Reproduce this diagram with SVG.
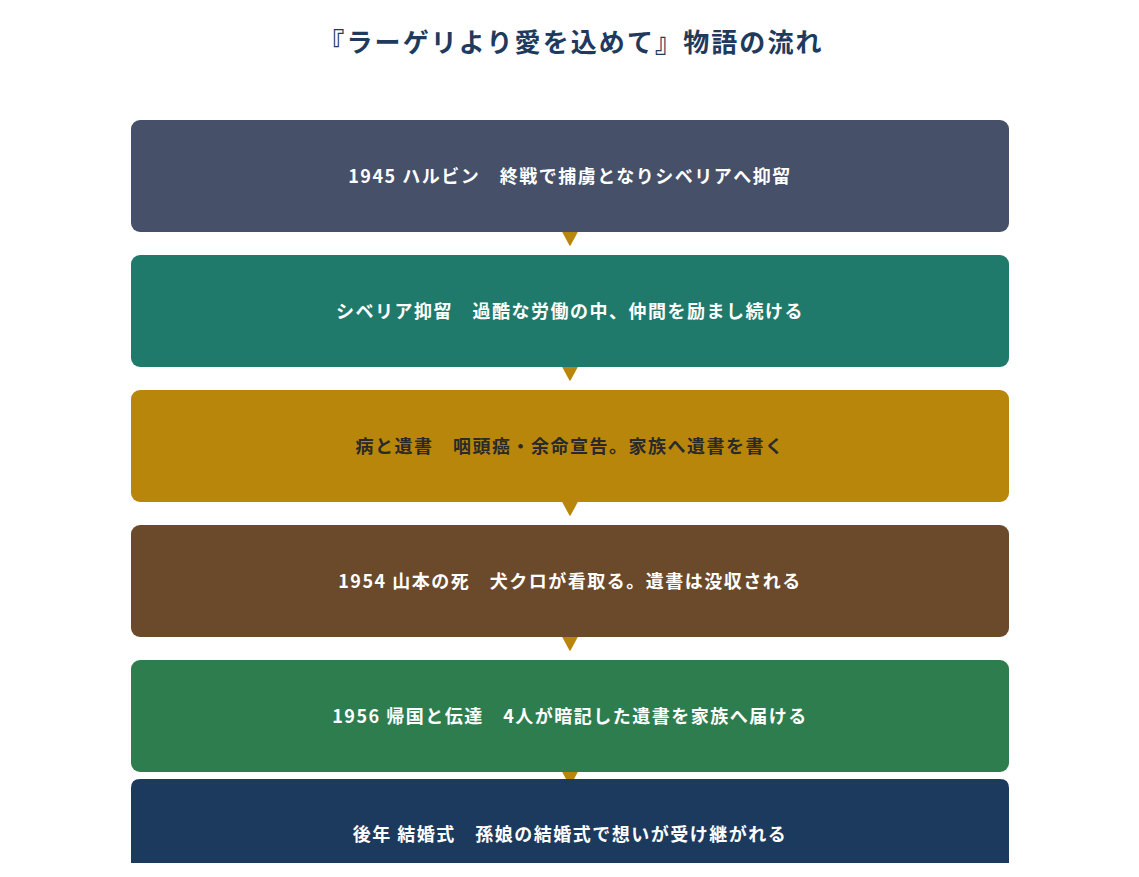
<svg xmlns="http://www.w3.org/2000/svg" width="1139" height="877" viewBox="0 0 1139 877">
<defs>
<style>
.title{font-family:"Noto Sans CJK JP","Noto Sans",sans-serif;font-weight:700;font-size:26px;fill:#1f3a5c;text-anchor:middle;letter-spacing:2.1px}
.lbl{font-family:"Noto Sans CJK JP","Noto Sans",sans-serif;font-weight:700;font-size:18px;fill:#ffffff;text-anchor:middle;dominant-baseline:central;letter-spacing:1.5px}
.dark{fill:#2a2a2a}
.arrow{fill:#b8860b;stroke:#b8860b;stroke-width:1.5;stroke-linejoin:round}
</style>
</defs>
<rect width="1139" height="877" fill="#ffffff"/>
<text class="title" x="571" y="52">『ラーゲリより愛を込めて』物語の流れ</text>
<g id="connectors">
<polygon class="arrow" points="563,232 577,232 570,245"/>
<polygon class="arrow" points="563,367 577,367 570,380"/>
<polygon class="arrow" points="563,502 577,502 570,515"/>
<polygon class="arrow" points="563,637 577,637 570,650"/>
<polygon class="arrow" points="563,772 577,772 570,785"/>
</g>
<g id="node1">
<rect x="131" y="120" width="878" height="112" rx="9" fill="#465069"/>
<text class="lbl" x="570" y="175">1945 ハルビン　終戦で捕虜となりシベリアへ抑留</text>
</g>
<g id="node2">
<rect x="131" y="255" width="878" height="112" rx="9" fill="#1f7a6c"/>
<text class="lbl" x="570" y="310">シベリア抑留　過酷な労働の中、仲間を励まし続ける</text>
</g>
<g id="node3">
<rect x="131" y="390" width="878" height="112" rx="9" fill="#b8860b"/>
<text class="lbl dark" x="570" y="445">病と遺書　咽頭癌・余命宣告。家族へ遺書を書く</text>
</g>
<g id="node4">
<rect x="131" y="525" width="878" height="112" rx="9" fill="#6b4a2b"/>
<text class="lbl" x="570" y="580">1954 山本の死　犬クロが看取る。遺書は没収される</text>
</g>
<g id="node5">
<rect x="131" y="660" width="878" height="112" rx="9" fill="#2e7d4f"/>
<text class="lbl" x="570" y="715">1956 帰国と伝達　4人が暗記した遺書を家族へ届ける</text>
</g>
<g id="node6">
<path d="M131,863 V788 Q131,779 140,779 H1000 Q1009,779 1009,788 V863 Z" fill="#1c3a5e"/>
<text class="lbl" x="570" y="833">後年 結婚式　孫娘の結婚式で想いが受け継がれる</text>
</g>
</svg>
